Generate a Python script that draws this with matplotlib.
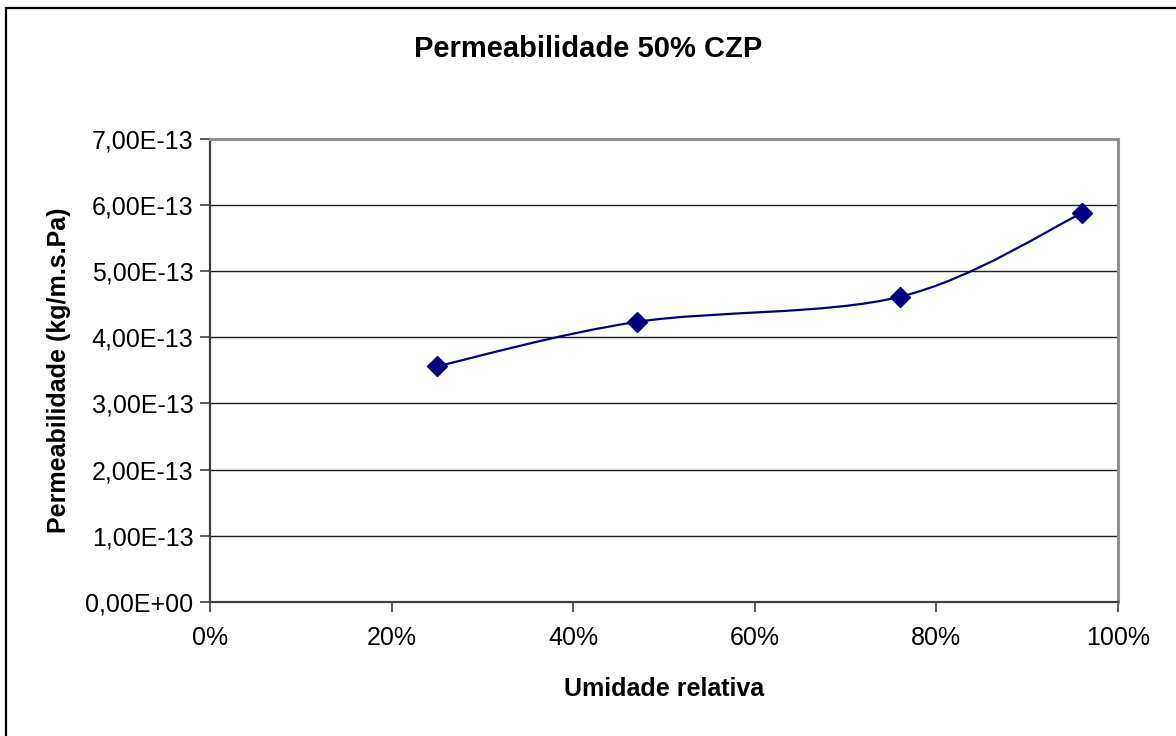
import numpy as np
import matplotlib
matplotlib.use('Agg')
import matplotlib.pyplot as plt
from matplotlib.path import Path
from matplotlib.patches import PathPatch, Rectangle
from matplotlib.ticker import FuncFormatter

plt.rcParams['font.family'] = ['Liberation Sans', 'DejaVu Sans']

# umidade relativa (fração) e permeabilidade medida
umidade = [0.25, 0.47, 0.76, 0.96]
permeab = [3.56e-13, 4.23e-13, 4.61e-13, 5.87e-13]

x_ticks = [0.0, 0.2, 0.4, 0.6, 0.8, 1.0]
y_ticks = [0.0, 1e-13, 2e-13, 3e-13, 4e-13, 5e-13, 6e-13, 7e-13]

cor = '#000080'


def curva_suave(xs, ys):
    # segmentos de Bezier tipo Catmull-Rom passando pelos pontos
    pts = np.column_stack([xs, ys])
    n = len(pts)
    verts = [pts[0]]
    codes = [Path.MOVETO]
    for i in range(n - 1):
        p0 = pts[i - 1] if i > 0 else pts[i]
        p1 = pts[i]
        p2 = pts[i + 1]
        p3 = pts[i + 2] if i + 2 < n else pts[i + 1]
        c1 = p1 + (p2 - p0) / 6.0
        c2 = p2 - (p3 - p1) / 6.0
        verts += [c1, c2, p2]
        codes += [Path.CURVE4] * 3
    return Path(verts, codes)


fig = plt.figure(figsize=(11.76, 7.36), dpi=100)
ax = fig.add_axes([210 / 1176, 1 - 602 / 736, 908 / 1176, 463.5 / 736])

ax.add_patch(PathPatch(curva_suave(umidade, permeab), facecolor='none',
                       edgecolor=cor, lw=1.6, zorder=3))
ax.plot(umidade, permeab, linestyle='none', marker='D', ms=10.5,
        color=cor, zorder=4)

ax.set_xlim(0, 1)
ax.set_ylim(0, 7e-13)
ax.set_xticks(x_ticks)
ax.set_yticks(y_ticks)
ax.xaxis.set_major_formatter(FuncFormatter(lambda v, p: '%d%%' % round(v * 100)))
ax.yaxis.set_major_formatter(FuncFormatter(
    lambda v, p: ('%.2E' % v).replace('.', ',')))
ax.tick_params(axis='both', direction='out', length=7, width=1.2,
               colors='#404040', labelsize=18, labelcolor='black')
ax.tick_params(axis='y', pad=5)
ax.tick_params(axis='x', pad=10)

ax.grid(axis='y', color='#202020', lw=1.0)
ax.set_axisbelow(True)
for lado in ['top', 'right']:
    ax.spines[lado].set_color('#909090')
    ax.spines[lado].set_linewidth(2.2)
for lado in ['left', 'bottom']:
    ax.spines[lado].set_color('#404040')
    ax.spines[lado].set_linewidth(1.6)

ax.set_xlabel('Umidade relativa', fontsize=18, fontweight='bold', labelpad=20)
ax.set_ylabel('Permeabilidade (kg/m.s.Pa)', fontsize=18, fontweight='bold',
              labelpad=10)
fig.text(0.5, 1 - 49 / 736, 'Permeabilidade 50% CZP', ha='center', va='center',
         fontsize=21, fontweight='bold')

# moldura do gráfico
fig.patches.append(Rectangle((6 / 1176, -0.05), 1.2, 1 - 8 / 736 + 0.05,
                             transform=fig.transFigure, fill=False,
                             edgecolor='black', lw=1.6))

fig.savefig('out.png', dpi=100)
